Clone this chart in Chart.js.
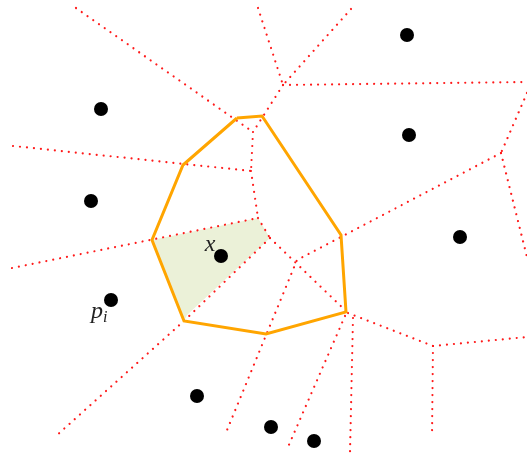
<!DOCTYPE html>
<html>
<head>
<meta charset="utf-8">
<script src="https://cdn.jsdelivr.net/npm/chart.js@4/dist/chart.umd.min.js"></script>
<style>
  html, body { margin: 0; padding: 0; background: #fff; }
  #wrap { width: 527px; height: 455px; }
</style>
</head>
<body>
<div id="wrap"><canvas id="chart" width="527" height="455"></canvas></div>
<script>
// sites (black dots)
const sites = [
  [407, 35], [101, 109], [409, 135], [91, 201], [460, 237],
  [221, 256], [111, 300], [197, 396], [271, 427], [314, 441]
];

// voronoi cell of the inserted point x (orange)
const cellX = [
  [237, 118], [262, 116], [341, 235], [346, 312], [266, 334],
  [184, 321], [152, 240], [183, 165], [237, 118]
];

// area stolen from p_i (green)
const stolen = [
  [152, 240], [258, 218], [270, 238], [187, 315], [184, 321], [152, 240]
];

// original voronoi edges (red dotted)
const edges = [
  [[76, 8], [253, 132]],
  [[258, 8], [283, 85]],
  [[351, 9], [283, 85]],
  [[283, 85], [527, 82]],
  [[283, 85], [253, 132]],
  [[527, 93], [501, 153]],
  [[501, 153], [527, 257]],
  [[501, 153], [297, 260], [225, 435]],
  [[13, 146], [251, 171]],
  [[253, 132], [251, 171]],
  [[251, 171], [258, 218]],
  [[12, 268], [258, 218]],
  [[258, 218], [270, 238]],
  [[270, 238], [185, 320], [56, 436]],
  [[270, 238], [348, 313]],
  [[348, 313], [433, 346]],
  [[433, 346], [527, 337]],
  [[433, 346], [432, 434]],
  [[353, 318], [350, 452]],
  [[345, 316], [288, 447]]
];

const labels = [
  { text: 'x', sub: '', at: [210, 251] },
  { text: 'p', sub: 'i', at: [97, 318] }
];

const pts = (arr) => arr.map(([x, y]) => ({ x, y }));

const datasets = [];

datasets.push({
  type: 'line',
  data: pts(sites),
  showLine: false,
  pointRadius: 7,
  pointBackgroundColor: '#000',
  pointBorderWidth: 0,
  order: 0
});

datasets.push({
  type: 'line',
  data: pts(cellX),
  borderColor: '#ffa500',
  borderWidth: 3,
  pointRadius: 0,
  tension: 0,
  fill: false,
  order: 1
});

edges.forEach((e) => {
  datasets.push({
    type: 'line',
    data: pts(e),
    borderColor: '#ff1a1a',
    borderWidth: 2.2,
    borderDash: [0.01, 7],
    borderCapStyle: 'round',
    pointRadius: 0,
    tension: 0,
    fill: false,
    order: 2
  });
});

datasets.push({
  type: 'line',
  data: pts(stolen),
  borderWidth: 0,
  borderColor: 'rgba(0,0,0,0)',
  backgroundColor: '#ebf1d8',
  pointRadius: 0,
  tension: 0,
  fill: 'shape',
  order: 3
});

const textLabels = {
  id: 'textLabels',
  afterDatasetsDraw(chart) {
    const { ctx, scales } = chart;
    ctx.save();
    ctx.fillStyle = '#222';
    ctx.textBaseline = 'alphabetic';
    labels.forEach((l) => {
      const px = scales.x.getPixelForValue(l.at[0]);
      const py = scales.y.getPixelForValue(l.at[1]);
      ctx.font = 'italic 24px "Liberation Serif"';
      ctx.textAlign = 'center';
      ctx.fillText(l.text, px, py);
      if (l.sub) {
        const w = ctx.measureText(l.text).width;
        ctx.font = 'italic 16px "Liberation Serif"';
        ctx.textAlign = 'left';
        ctx.fillText(l.sub, px + w / 2, py + 4);
      }
    });
    ctx.restore();
  }
};

new Chart(document.getElementById('chart'), {
  type: 'scatter',
  data: { datasets },
  options: {
    responsive: false,
    animation: false,
    layout: { padding: 0, autoPadding: false },
    plugins: { legend: { display: false }, tooltip: { enabled: false } },
    scales: {
      x: { type: 'linear', min: 0, max: 527, display: false },
      y: { type: 'linear', min: 0, max: 455, reverse: true, display: false }
    }
  },
  plugins: [textLabels]
});
</script>
</body>
</html>
